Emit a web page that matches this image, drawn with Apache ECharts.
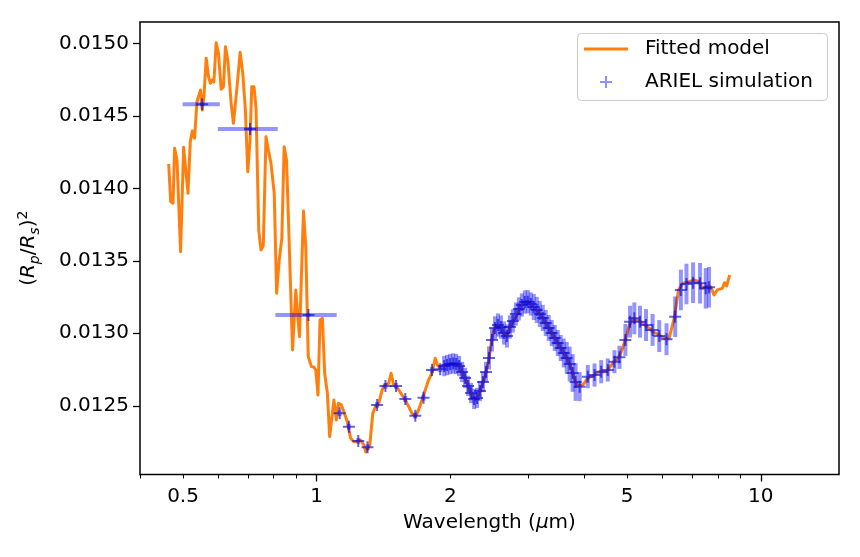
<!DOCTYPE html>
<html>
<head>
<meta charset="utf-8">
<script src="https://cdn.jsdelivr.net/npm/echarts@6/dist/echarts.min.js"></script>
<style>
html,body{margin:0;padding:0;background:#fff}
#chart{width:860px;height:557px}
</style>
</head>
<body>
<div id="chart"></div>
<script>
// fitted model (wavelength in um, transit depth)
var modelWl = [0.4642,0.4690,0.4747,0.4786,0.4846,0.4937,0.5015,0.5130,0.5191,0.5245,
	0.5308,0.5374,0.5419,0.5474,0.5524,0.5572,0.5638,0.5706,0.5765,0.5816,
	0.5867,0.5937,0.6008,0.6093,0.6165,0.6229,0.6306,0.6416,0.6492,0.6559,
	0.6617,0.6722,0.6816,0.6908,0.6994,0.7078,0.7140,0.7225,0.7300,0.7403,
	0.7490,0.7580,0.7687,0.7794,0.7887,0.8023,0.8123,0.8233,0.8346,0.8446,
	0.8551,0.8652,0.8821,0.8973,0.9052,0.9146,0.9337,0.9448,0.9570,0.9730,
	0.9846,0.9949,1.0067,1.0172,1.0299,1.0421,1.0568,1.0693,1.0804,1.0934,
	1.1070,1.1186,1.1361,1.1515,1.1720,1.1922,1.2126,1.2360,1.2549,1.2766,
	1.2899,1.3032,1.3168,1.3373,1.3562,1.3795,1.4039,1.4207,1.4525,1.4707,
	1.4905,1.5192,1.5567,1.5973,1.6390,1.6672,1.6959,1.7258,1.7555,1.7857,
	1.8173,1.8486,1.8707,1.8967,1.9634,2.0315,2.0850,2.1219,2.1584,2.1955,
	2.2344,2.2728,2.3119,2.3527,2.3932,2.4221,2.4547,2.4763,2.5061,2.5492,
	2.5943,2.6389,2.6762,2.7227,2.7790,2.8418,2.8668,2.9417,2.9923,3.0702,
	3.1503,3.2327,3.3184,3.4051,3.4940,3.5853,3.6790,3.7440,3.8084,3.8738,
	3.9747,4.0785,4.1849,4.3331,4.4857,4.6416,4.8050,4.9555,5.0582,5.1642,
	5.2797,5.4188,5.5604,5.7057,5.9060,6.0602,6.2185,6.3809,6.5250,6.6853,
	6.8961,7.0762,7.2611,7.3859,7.5792,7.7131,7.8458,7.9808,8.1894,8.2918,
	8.3782,8.5084];
var modelDepth = [0.014168,0.013908,0.013897,0.014276,0.014195,0.013563,0.014283,0.013966,0.014321,0.014395,
	0.014345,0.014597,0.014609,0.014678,0.014540,0.014632,0.014897,0.014770,0.014724,0.014747,
	0.014733,0.015004,0.014931,0.014683,0.014701,0.014977,0.014885,0.014586,0.014448,0.014457,
	0.014701,0.014938,0.014793,0.014540,0.014114,0.014333,0.014701,0.014700,0.014552,0.013712,
	0.013574,0.013602,0.014356,0.014252,0.014174,0.013966,0.013276,0.013506,0.013655,0.014287,
	0.014195,0.013712,0.012885,0.013299,0.013138,0.012977,0.013843,0.013597,0.012839,0.012770,
	0.012768,0.012747,0.012574,0.013092,0.013103,0.012724,0.012586,0.012287,0.012276,0.012540,
	0.012402,0.012517,0.012506,0.012457,0.012390,0.012276,0.012252,0.012257,0.012264,0.012230,
	0.012181,0.012172,0.012230,0.012448,0.012494,0.012517,0.012609,0.012643,0.012655,0.012724,
	0.012643,0.012623,0.012574,0.012517,0.012448,0.012425,0.012471,0.012540,0.012609,0.012678,
	0.012724,0.012828,0.012781,0.012759,0.012781,0.012793,0.012781,0.012735,0.012690,0.012632,
	0.012574,0.012540,0.012574,0.012632,0.012701,0.012770,0.012862,0.012954,0.013023,0.013057,
	0.013045,0.013000,0.012977,0.013045,0.013092,0.013138,0.013183,0.013218,0.013218,0.013183,
	0.013149,0.013103,0.013045,0.012988,0.012931,0.012873,0.012816,0.012759,0.012678,0.012637,
	0.012644,0.012690,0.012706,0.012735,0.012735,0.012793,0.012839,0.012954,0.013057,0.013103,
	0.013092,0.013069,0.013045,0.013011,0.012988,0.012966,0.012966,0.013103,0.013299,0.013345,
	0.013356,0.013368,0.013356,0.013310,0.013321,0.013321,0.013264,0.013299,0.013310,0.013349,
	0.013326,0.013402];

// ARIEL simulated points with errors
var simWl = [0.552,0.7078,0.958,1.1262,1.1814,1.2404,1.3013,1.3677,1.4280,1.5087,
	1.5831,1.6672,1.7402,1.8173,1.8967,
	1.9364,1.9666,1.9972,2.0287,2.0601,2.0922,2.1253,2.1584,2.1920,2.2262,
	2.2614,2.2961,2.3318,2.3681,2.4055,2.4430,2.4810,2.5197,2.5595,2.5994,
	2.6399,2.6815,2.7227,2.7651,2.8081,2.8524,2.8968,2.9417,2.9876,3.0346,
	3.0819,3.1299,3.1786,3.2285,3.2789,3.3300,3.3818,3.4353,3.4888,3.5431,
	3.5991,3.6552,3.7121,3.7698,3.8282,
	3.9094,4.0785,4.2230,4.3712,4.5229,4.6819,4.8050,4.9555,5.0775,5.1906,
	5.3456,5.5139,5.7057,5.9060,6.1333,6.4150,6.6069,6.8017,7.0388,7.2980,
	7.5162,7.6456];
var simDepth = [0.014579,0.014409,0.013126,0.012448,0.012356,0.012257,0.012214,0.012506,0.012637,0.012637,
	0.012547,0.012432,0.012556,0.012747,0.012752,
	0.012774,0.012781,0.012788,0.012792,0.012788,0.012774,0.012733,0.012692,0.012637,0.012588,
	0.012547,0.012554,0.012602,0.012664,0.012733,0.012830,0.012954,0.013037,0.013057,0.013043,
	0.013002,0.012981,0.013043,0.013085,0.013133,0.013168,0.013195,0.013216,0.013218,0.013202,
	0.013181,0.013161,0.013133,0.013106,0.013071,0.013037,0.013002,0.012968,0.012933,0.012899,
	0.012864,0.012830,0.012788,0.012726,0.012664,
	0.012632,0.012701,0.012712,0.012735,0.012747,0.012804,0.012834,0.012954,0.013080,0.013103,
	0.013080,0.013057,0.013023,0.012981,0.012959,0.013114,0.013299,0.013340,0.013349,0.013345,
	0.013310,0.013317];
var simXerr = [0.053,0.109,0.151,0,0,0,0,0,0,0,
	0,0,0,0,0,
	0,0,0,0,0,0,0,0,0,0,
	0,0,0,0,0,0,0,0,0,0,
	0,0,0,0,0,0,0,0,0,0,
	0,0,0,0,0,0,0,0,0,0,
	0,0,0,0,0,
	0,0,0,0,0,0,0,0,0,0,
	0,0,0,0,0,0,0,0,0,0,
	0,0];
var simYerr = [0.00001,0.00001,0.00001,0.00002,0.00002,0.00002,0.00002,0.00002,0.00002,0.00002,
	0.00002,0.00002,0.00002,0.00002,0.00002,
	0.00007,0.00007,0.00007,0.00007,0.00007,0.00007,0.00007,0.00007,0.00007,0.00007,
	0.00007,0.00007,0.00007,0.00007,0.00007,0.00008,0.00008,0.00008,0.00008,0.00008,
	0.00008,0.00008,0.00008,0.00008,0.00008,0.00008,0.00008,0.00008,0.00008,0.00008,
	0.00009,0.00009,0.00009,0.00009,0.00009,0.00009,0.00009,0.00009,0.00009,0.00009,
	0.00010,0.00011,0.00012,0.00013,0.00013,
	0.00010,0.00008,0.00008,0.00008,0.00008,0.00008,0.00008,0.00011,0.00011,0.00011,
	0.00011,0.00011,0.00011,0.00011,0.00011,0.00014,0.00014,0.00014,0.00014,0.00014,
	0.00014,0.00014];

var xLabelTicks = [0.5, 1, 2, 5, 10];
var xMajorTicks = [1, 10];
var xMinorTicks = [0.4, 0.5, 0.6, 0.7, 0.8, 0.9, 2, 3, 4, 5, 6, 7, 8, 9];
var yTicks = [0.0125, 0.0130, 0.0135, 0.0140, 0.0145, 0.0150];
var xMin = 0.4, xMax = 15, yMin = 0.012026, yMax = 0.015147;

var FONT = 'DejaVu Sans';
var plusPath = 'path://M5,0h2v5h5v2h-5v5h-2v-5h-5v-2h5z';

function lg(v) { return Math.log10(v); }

var modelData = [];
for (var i = 0; i < Math.min(modelWl.length, modelDepth.length); i++) {
	modelData.push([lg(modelWl[i]), modelDepth[i]]);
}
var simData = [], errData = [];
for (var j = 0; j < simWl.length; j++) {
	simData.push([lg(simWl[j]), simDepth[j]]);
	var xe = simXerr[j] || 0, ye = simYerr[j] || 0;
	errData.push([lg(simWl[j]), simDepth[j],
		lg(simWl[j] - xe), lg(simWl[j] + xe), simDepth[j] - ye, simDepth[j] + ye]);
}

function renderErr(params, api) {
	var c = api.coord([api.value(0), api.value(1)]);
	var style = {stroke: 'rgba(0,0,255,0.42)', lineWidth: 4};
	var kids = [];
	if (api.value(3) > api.value(2)) {
		var a = api.coord([api.value(2), api.value(1)]);
		var b = api.coord([api.value(3), api.value(1)]);
		kids.push({type: 'line', shape: {x1: a[0], y1: a[1], x2: b[0], y2: b[1]}, style: style});
	}
	if (api.value(5) > api.value(4)) {
		var t = api.coord([api.value(0), api.value(5)]);
		var u = api.coord([api.value(0), api.value(4)]);
		kids.push({type: 'line', shape: {x1: c[0], y1: t[1], x2: c[0], y2: u[1]}, style: style});
	}
	return {type: 'group', children: kids};
}

var chart = echarts.init(document.getElementById('chart'), null, {renderer: 'canvas'});
var option = {
	animation: false,
	backgroundColor: '#fff',
	textStyle: {fontFamily: FONT},
	grid: {left: 140, right: 21, top: 22, bottom: 82.5, show: true,
		borderColor: '#000', borderWidth: 1.5, backgroundColor: 'transparent', outerBoundsMode: 'none'},
	graphic: [{
		type: 'rect', left: 577, top: 33, z: 1, silent: true,
		shape: {width: 250, height: 67, r: 4},
		style: {fill: 'rgba(255,255,255,0.8)', stroke: '#cccccc', lineWidth: 1}
	}],
	legend: [{
		data: [{name: 'Fitted model', icon: 'rect'}], left: 584, top: 39, padding: 0, z: 5,
		itemWidth: 44, itemHeight: 3, selectedMode: false,
		textStyle: {fontFamily: FONT, fontSize: 20, color: '#000', padding: [0, 0, 0, 12]}
	}, {
		data: [{name: 'ARIEL simulation', icon: plusPath, itemStyle: {color: 'rgba(0,0,255,0.55)'}}],
		left: 600, top: 72, padding: 0, z: 5,
		itemWidth: 12, itemHeight: 12, selectedMode: false,
		textStyle: {fontFamily: FONT, fontSize: 20, color: '#000', padding: [0, 0, 0, 28]}
	}],
	xAxis: [{
		type: 'value', min: lg(xMin), max: lg(xMax), position: 'bottom',
		name: 'Wavelength ({i|μ}m)', nameLocation: 'middle', nameGap: 38,
		nameTextStyle: {fontFamily: FONT, fontSize: 20, color: '#000',
			rich: {i: {fontFamily: FONT, fontSize: 20, fontStyle: 'italic', color: '#000'}}},
		axisLine: {show: false, onZero: false},
		splitLine: {show: false},
		axisTick: {show: true, length: 7, lineStyle: {color: '#000', width: 1.3},
			customValues: xMajorTicks.map(lg)},
		axisLabel: {show: true, margin: 12, fontFamily: FONT, fontSize: 20, color: '#000',
			customValues: xLabelTicks.map(lg),
			formatter: function (v) { return String(Math.round(Math.pow(10, v) * 10) / 10); }}
	}, {
		type: 'value', min: lg(xMin), max: lg(xMax), position: 'bottom',
		axisLine: {show: false, onZero: false}, splitLine: {show: false},
		axisTick: {show: true, length: 4, lineStyle: {color: '#000', width: 1},
			customValues: xMinorTicks.map(lg)},
		axisLabel: {show: false}
	}],
	yAxis: {
		type: 'value', min: yMin, max: yMax,
		name: '({i|R}{sub|p}/{i|R}{sub|s}){sup|2}', nameLocation: 'middle', nameGap: 98, nameRotate: 90,
		nameTextStyle: {fontFamily: FONT, fontSize: 20, color: '#000', lineHeight: 26,
			rich: {
				i: {fontFamily: FONT, fontSize: 20, fontStyle: 'italic', color: '#000', lineHeight: 26},
				sub: {fontFamily: FONT, fontSize: 14, fontStyle: 'italic', color: '#000', lineHeight: 14, verticalAlign: 'bottom'},
				sup: {fontFamily: FONT, fontSize: 14, color: '#000', lineHeight: 14, verticalAlign: 'top'}
			}},
		axisLine: {show: false, onZero: false},
		splitLine: {show: false},
		axisTick: {show: true, length: 7, lineStyle: {color: '#000', width: 1.3}, customValues: yTicks},
		axisLabel: {margin: 11, fontFamily: FONT, fontSize: 20, color: '#000', customValues: yTicks,
			formatter: function (v) { return v.toFixed(4); }}
	},
	series: [{
		name: 'Fitted model', type: 'line', data: modelData, showSymbol: false, symbol: 'none',
		z: 2, silent: true,
		lineStyle: {color: '#ff7f0e', width: 3, join: 'round'},
		itemStyle: {color: '#ff7f0e'}
	}, {
		name: 'errbars', type: 'custom', data: errData, renderItem: renderErr,
		encode: {x: 0, y: 1}, z: 3, silent: true
	}, {
		name: 'ARIEL simulation', type: 'scatter', data: simData, symbol: plusPath, symbolSize: 12,
		z: 4, silent: true,
		itemStyle: {color: 'rgba(10,10,220,0.8)'}
	}]
};
chart.setOption(option);
</script>
</body>
</html>
